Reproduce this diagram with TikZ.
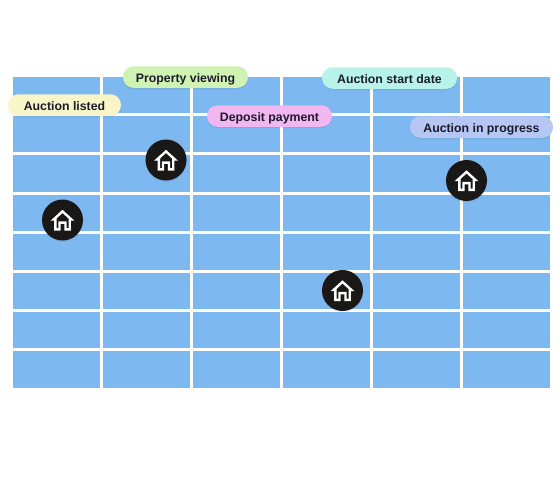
\documentclass[tikz,border=0pt]{standalone}
\usepackage{fontspec}
\setmainfont{Liberation Sans}
\usepackage{xcolor}
\usetikzlibrary{positioning, calc, shadows}
\definecolor{cellblue}{HTML}{7DB8F1}
\definecolor{inkdark}{HTML}{1B1B2B}
\definecolor{badgeblack}{HTML}{191817}
\definecolor{pillyellow}{HTML}{F8F6C8}
\definecolor{pillgreen}{HTML}{D0F3B4}
\definecolor{pillpink}{HTML}{F2B6F0}
\definecolor{pillteal}{HTML}{B7F3E8}
\definecolor{pillblue}{HTML}{B7C7F3}
\tikzset{
  softshadow/.style={drop shadow={shadow xshift=0pt, shadow yshift=-1.5pt, opacity=0.05, fill=black}},
  cell/.style={fill=cellblue, draw=none},
  pill/.style={rectangle, rounded corners=10.5pt, softshadow, draw=none, inner sep=0pt,
    minimum height=21.5pt, text height=10pt, text depth=0pt, text=inkdark,
    font=\fontsize{12.3}{14}\selectfont\bfseries},
  badge/.style={circle, fill=badgeblack, draw=none, minimum size=41pt, inner sep=0pt, softshadow},
  house/.pic={
    \draw[white, line width=2.4pt, miter limit=10, line join=miter]
      (-8.8,-0.6) -- (0,-8.6) -- (8.8,-0.6) -- (7.2,-0.6) -- (7.2,9.4) -- (3,9.4) -- (3,2.6)
      -- (-3,2.6) -- (-3,9.4) -- (-7.2,9.4) -- (-7.2,-0.6) -- cycle;
  }
}
\begin{document}
\begin{tikzpicture}[x=1pt, y=-1pt]
  \useasboundingbox (0,0) rectangle (560,480);

  % Blue grid
  \foreach \xa/\xb in {13/100, 103/190, 193/280, 283/370, 373/460, 463/550} {
    \foreach \ya/\yb in {77/113, 116/152, 155/192, 195/231, 234/270, 273/309, 312/348, 351/388} {
      \fill[cell] (\xa,\ya) rectangle (\xb,\yb);
    }
  }

  % Stage labels
  \node[pill, fill=pillgreen, minimum width=125pt] (viewing) at (185.5,77) {Property viewing};
  \node[pill, fill=pillteal, minimum width=135pt] (startdate) at (389.5,78) {Auction start date};
  \node[pill, fill=pillyellow, minimum width=113pt] (listed) at (64.5,105) {Auction listed};
  \node[pill, fill=pillpink, minimum width=125pt] (deposit) at (269.5,116) {Deposit payment};
  \node[pill, fill=pillblue, minimum width=143pt] (progress) at (481.5,127) {Auction in progress};

  % House badges
  \node[badge] (houseA) at (166,160) {};
  \node[badge] (houseB) at (62.5,220) {};
  \node[badge] (houseC) at (466.5,180.5) {};
  \node[badge] (houseD) at (342.5,290.5) {};
  \foreach \badgename in {houseA, houseB, houseC, houseD} {
    \pic at (\badgename) {house};
  }
\end{tikzpicture}
\end{document}
